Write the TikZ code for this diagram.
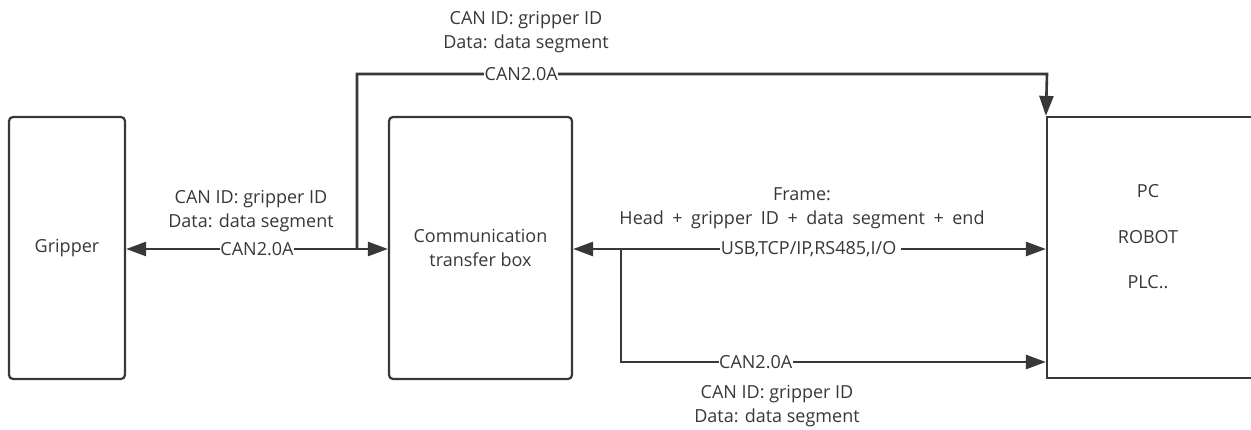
\documentclass[tikz,border=0pt]{standalone}
\usepackage{fontspec}
\setmainfont{Open Sans}
\usetikzlibrary{arrows.meta}
\definecolor{ink}{HTML}{383838}
\begin{document}
\begin{tikzpicture}[x=1pt,y=-1pt,
  txt/.style={text=ink,font=\fontsize{18}{24.5}\selectfont,align=center,inner sep=0pt},
  boxr/.style={draw=ink,line width=2.2pt,rounded corners=4pt,minimum height=262pt,txt},
  boxs/.style={draw=ink,line width=2.2pt,minimum height=261pt},
  conn/.style={draw=ink,line width=2.6pt},
  tip/.style={-{Triangle[length=20pt,width=14pt]}},
  tips/.style={{Triangle[length=20pt,width=14pt]}-{Triangle[length=20pt,width=14pt]}},
  lbl/.style={txt,fill=white,inner xsep=0.5pt,inner ysep=2pt}]
\useasboundingbox (0,0) rectangle (1251,430);
\clip (0,0) rectangle (1251,430);
\fill[white] (0,0) rectangle (1251,430);
% boxes
\node[boxr,minimum width=116pt] (grip) at (67,248) {Gripper};
\node[boxr,minimum width=183pt] (comm) at (480.5,248) {Communication\\transfer box};
\node[boxs,minimum width=230pt] (pc) at (1162,247.5) {};
\node[txt,font=\fontsize{18}{45.5}\selectfont] (pctext) at (1148,237) {PC\\ROBOT\\PLC..};
% junction coordinates
\coordinate (j1) at (357,249);
\coordinate (t1) at (357,74);
\coordinate (t2) at (1047,74);
\coordinate (j2) at (621,249);
\coordinate (b1) at (621,362);
% connectors
\draw[conn,tips] (grip.east |- j1) -- node[lbl,pos=0.5]{CAN2.0A} (comm.west |- j1);
\draw[conn,tip] (j1) -- (t1) -- node[lbl,pos=0.238]{CAN2.0A} (t2) -- (pc.north west);
\draw[conn,tips] (comm.east |- j1) -- node[lbl,pos=0.503]{USB,TCP/IP,RS485,I/O\ } (pc.west |- j1);
\draw[conn,tip] (j2) -- (b1) -- node[lbl,pos=0.317]{CAN2.0A} (pc.west |- b1);
% annotations
\node[txt] (ntop) at (526,32) {CAN ID: gripper ID\\Data: data segment};
\node[txt] (nleft) at (251,211) {CAN ID: gripper ID\\Data: data segment};
\node[txt] (nframe) at (802,208) {Frame:\\\spaceskip=8.5pt Head + gripper ID + data segment + end};
\node[txt] (nbot) at (777,406) {CAN ID: gripper ID\\Data: data segment};
\end{tikzpicture}
\end{document}
